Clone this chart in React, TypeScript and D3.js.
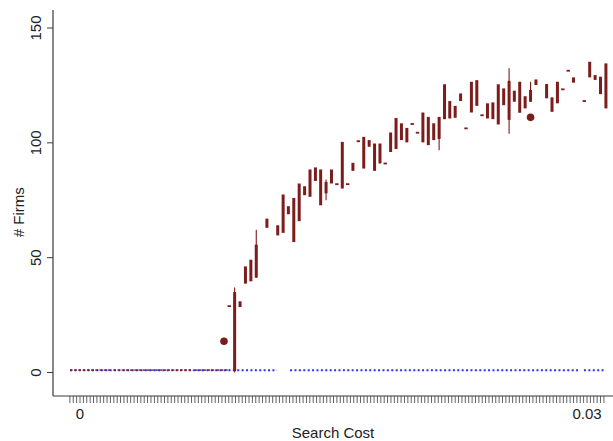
import React from "react";
import * as d3 from "d3";

const W = 613;
const H = 441;

// Range bars: search cost, low and high number of firms
const barCost = [
  0.00883, 0.00915, 0.00947, 0.00979, 0.01011, 0.01043, 0.01106, 0.0117, 0.01202, 0.01233,
  0.01265, 0.01297, 0.01329, 0.01361, 0.01393, 0.01424, 0.01456, 0.01488, 0.0152, 0.01552,
  0.01584, 0.01615, 0.01647, 0.01679, 0.01711, 0.01743, 0.01775, 0.01806, 0.01838, 0.0187,
  0.01902, 0.01934, 0.01966, 0.01997, 0.02029, 0.02061, 0.02093, 0.02125, 0.02157, 0.02188,
  0.0222, 0.02252, 0.02284, 0.02316, 0.02348, 0.02379, 0.02411, 0.02443, 0.02475, 0.02507,
  0.02539, 0.0257, 0.02602, 0.02634, 0.02666, 0.02698, 0.02761, 0.02793, 0.02825, 0.02857,
  0.02889, 0.0292, 0.02984, 0.03016, 0.03048, 0.0308, 0.03112,
];
const barLow = [
  28.9, 0.6, 28.5, 38.7, 39.7, 41.3, 63, 59.7, 60.8, 68.9,
  56.8, 65.9, 77.2, 76.5, 83.4, 72.8, 78, 82.3, 82, 80.1,
  82, 87.8, 100.7, 88.8, 98.3, 87.8, 91, 91, 96, 97.3,
  101.2, 100.2, 108.2, 104.4, 100.2, 99, 101.2, 101.7, 110.3, 110.6,
  110.9, 118.2, 106.3, 113.2, 116.1, 112, 110.6, 110.3, 108, 116.4,
  110, 117.9, 113.1, 115, 117.9, 125.2, 119.4, 113.5, 117.2, 123.3,
  131.4, 126.2, 118.2, 128.5, 127.4, 121.2, 115,
];
const barHigh = [
  28.9, 35, 31, 46.2, 49.1, 55.7, 67, 64.1, 77.5, 72.4,
  76, 82.3, 81.1, 88.4, 89.3, 88.4, 83, 88.4, 82, 100.4,
  82, 91.3, 100.7, 102.6, 101.2, 99.7, 99.7, 91, 104.5, 110.8,
  108.5, 106.5, 108.2, 104.4, 113.2, 111.3, 108.5, 111.3, 125.5, 118.2,
  116.1, 121.5, 106.3, 126.6, 127.3, 112, 117.2, 117.6, 125.5, 123.7,
  127, 122.7, 126.6, 120.3, 123, 127.6, 125.6, 119.8, 126.6, 123.3,
  131.4, 128.5, 118.2, 135.3, 129.5, 128.8, 134.6,
];

// Thin whiskers (min–max) where they extend past the thick bar
const whiskerCost = [0.00915, 0.01043, 0.01456, 0.02125, 0.02539, 0.02666];
const whiskerLow = [0, 41.3, 75, 96.8, 104, 117.9];
const whiskerHigh = [37, 62.2, 84, 111.3, 132.5, 126.6];

// Large dots
const dotCost = [0.00852, 0.02666];
const dotValue = [13.6, 111.1];

// Blue dotted line at one firm (segments in search-cost units)
const blueValue = 1;
const blueStart = [-0.00059, 0.01243, 0.02982];
const blueEnd = [0.01166, 0.02947, 0.03106];

// Red dashed overlay at one firm
const redStart = [-0.00059, 0.00197, 0.00543, 0.0068, 0.00809];
const redEnd = [0.00188, 0.00533, 0.0067, 0.00799, 0.00888];

const yTicks = [0, 50, 100, 150];
const xLabels = [0, 0.03];
const xLabelText = ["0", "0.03"];
const minorStart = -0.0006;
const minorStep = 0.0002;
const minorCount = 159;

const MAROON = "#7d1c1c";
const BLUE = "#2f2fff";
const AXIS = "#3a3a3a";
const FONT = "'Liberation Sans', Arial, Helvetica, sans-serif";

export default function App() {
  const x = d3.scaleLinear().domain([0, 0.03]).range([80, 587]);
  const y = d3.scaleLinear().domain([0, 150]).range([372.5, 28]);

  const axisY = 396;
  const axisX = 53;

  const minor = d3.range(minorCount).map((i) => minorStart + i * minorStep);

  const barW = 3;

  return (
    <svg
      width={W}
      height={H}
      style={{ position: "absolute", left: 0, top: 0, background: "#fff" }}
      fontFamily={FONT}
    >
      <rect width={W} height={H} fill="#fff" />
      {/* axes */}
      <line x1={axisX} x2={axisX} y1={10} y2={axisY} stroke={AXIS} strokeWidth={1.2} />
      <line x1={axisX} x2={W} y1={axisY} y2={axisY} stroke={AXIS} strokeWidth={1.2} />
      {yTicks.map((t) => (
        <g key={"yt" + t}>
          <line x1={axisX - 6} x2={axisX} y1={y(t)} y2={y(t)} stroke={AXIS} strokeWidth={1} />
          <text
            transform={`translate(40.5,${y(t)}) rotate(-90)`}
            textAnchor="middle"
            fontSize={15}
            fill="#222"
          >
            {t}
          </text>
        </g>
      ))}
      <text
        transform={`translate(24,${(y(0) + y(150)) / 2 + 12}) rotate(-90)`}
        textAnchor="middle"
        fontSize={15}
        fill="#222"
      >
        # Firms
      </text>
      {minor.map((m, i) => (
        <line
          key={"mt" + i}
          x1={x(m)}
          x2={x(m)}
          y1={axisY}
          y2={axisY + 7}
          stroke={AXIS}
          strokeWidth={0.8}
        />
      ))}
      {xLabels.map((v, i) => (
        <text key={"xl" + i} x={x(v)} y={419} textAnchor="middle" fontSize={15} fill="#222">
          {xLabelText[i]}
        </text>
      ))}
      <text x={333} y={438} textAnchor="middle" fontSize={15} fill="#222">
        Search Cost
      </text>

      {/* blue dotted line */}
      {blueStart.map((s, i) => (
        <line
          key={"bl" + i}
          x1={x(s)}
          x2={x(blueEnd[i])}
          y1={y(blueValue)}
          y2={y(blueValue)}
          stroke={BLUE}
          strokeWidth={2}
          strokeDasharray="2 2.4"
        />
      ))}
      {redStart.map((s, i) => (
        <line
          key={"rl" + i}
          x1={x(s)}
          x2={x(redEnd[i])}
          y1={y(blueValue)}
          y2={y(blueValue)}
          stroke={MAROON}
          strokeWidth={1.8}
          strokeDasharray="2.6 1.6"
          opacity={0.8}
        />
      ))}

      {/* whiskers */}
      {whiskerCost.map((c, i) => (
        <line
          key={"wk" + i}
          x1={x(c)}
          x2={x(c)}
          y1={y(whiskerLow[i])}
          y2={y(whiskerHigh[i])}
          stroke={MAROON}
          strokeWidth={1.1}
        />
      ))}
      {/* bars */}
      {barCost.map((c, i) => {
        const lo = barLow[i];
        const hi = barHigh[i];
        if (lo === hi) {
          return (
            <rect
              key={"b" + i}
              x={x(c) - 1.7}
              y={y(hi) - 0.9}
              width={3.4}
              height={1.8}
              fill={MAROON}
            />
          );
        }
        return (
          <rect
            key={"b" + i}
            x={x(c) - barW / 2}
            y={y(hi)}
            width={barW}
            height={y(lo) - y(hi)}
            fill={MAROON}
          />
        );
      })}
      {dotCost.map((c, i) => (
        <circle key={"d" + i} cx={x(c)} cy={y(dotValue[i])} r={3.8} fill={MAROON} />
      ))}
    </svg>
  );
}
